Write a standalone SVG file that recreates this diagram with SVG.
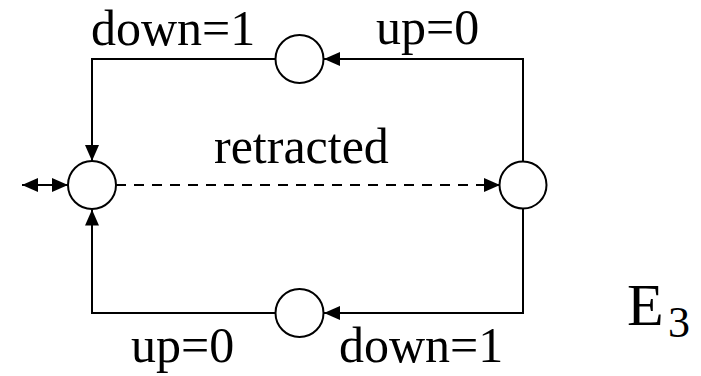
<svg xmlns="http://www.w3.org/2000/svg" width="701" height="376" viewBox="0 0 701 376">
  <style>
    .node { fill: #fff; stroke: #000; stroke-width: 2; }
    .edge { fill: none; stroke: #000; stroke-width: 2; }
    .dash { stroke-dasharray: 10 8; }
  </style>
  <defs>
    <marker id="arrow" markerUnits="userSpaceOnUse" viewBox="0 0 16 14" markerWidth="16" markerHeight="14" refX="16" refY="7" orient="auto-start-reverse">
      <path d="M0,0 L16,7 L0,14 z" fill="#000"/>
    </marker>
  </defs>

  <rect width="701" height="376" fill="#fff"/>

  <!-- connectors -->
  <g id="edges">
    <path class="edge" d="M523,161.5 V59 H324" marker-end="url(#arrow)"/>
    <path class="edge" d="M275.5,59 H92 V161" marker-end="url(#arrow)"/>
    <path class="edge" d="M523,208.5 V313 H324" marker-end="url(#arrow)"/>
    <path class="edge" d="M275.5,313 H92 V209.5" marker-end="url(#arrow)"/>
    <path class="edge dash" d="M116,185 H500" marker-end="url(#arrow)"/>
    <path class="edge" d="M22,185 H68" marker-start="url(#arrow)" marker-end="url(#arrow)"/>
  </g>

  <!-- states -->
  <g id="n-left"><circle class="node" cx="92" cy="185" r="24"/></g>
  <g id="n-right"><circle class="node" cx="523" cy="185" r="23.5"/></g>
  <g id="n-top"><circle class="node" cx="299.5" cy="59" r="24"/></g>
  <g id="n-bottom"><circle class="node" cx="299.5" cy="313" r="24"/></g>

  <!-- labels -->
  <g id="labels" font-family="'Liberation Serif', Tinos, 'Times New Roman', serif" font-size="50" fill="#000">
    <text x="91" y="45">down=1</text>
    <text x="376" y="44">up=0</text>
    <text x="214" y="163">retracted</text>
    <text x="131" y="362">up=0</text>
    <text x="339" y="362">down=1</text>
    <text x="627" y="325" font-size="60">E<tspan x="668" y="337" font-size="44">3</tspan></text>
  </g>
</svg>
